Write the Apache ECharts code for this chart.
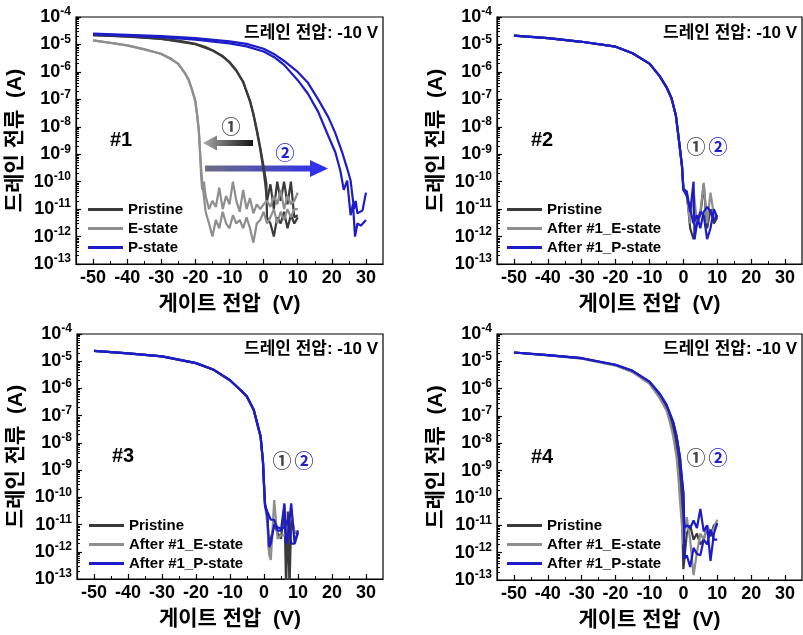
<!DOCTYPE html>
<html><head><meta charset="utf-8">
<script src="https://cdn.jsdelivr.net/npm/echarts@6/dist/echarts.min.js"></script>
<style>html,body{margin:0;padding:0;background:#fff}#c{width:803px;height:635px}</style>
</head><body><div id="c"></div><script>
// ---------- axis ticks ----------
const xMajorTicks = [-50,-40,-30,-20,-10,0,10,20,30];
const xMinorTicks = [-45,-35,-25,-15,-5,5,15,25];
const yMin = 1e-13, yMax = 1e-4;

// ---------- Panel #1 data [gate V, drain I (A)] ----------
const p1Pristine1 = [[-50,2.2e-5],[-45,2.08e-5],[-40,1.95e-5],[-35,1.8e-5],[-30,1.6e-5],[-25,1.38e-5],[-20,1.05e-5],[-17,8e-6],[-15,6.2e-6],[-12,3.8e-6],[-10,2.3e-6],[-8,1.15e-6],[-6,4.2e-7],[-4,8.5e-8],[-3,2.8e-8],[-2,7e-9],[-1,1.5e-9],[0,2.5e-10],[0.5,8e-11],[1,2e-11],[2,8e-11],[3,1e-11],[4,1e-10],[5,2e-11],[6,1e-10],[7,1.5e-11],[8,1e-10],[9,5e-12],[10,6e-12]];
const p1Pristine2 = [[-50,2.2e-5],[-40,1.93e-5],[-30,1.58e-5],[-20,1.02e-5],[-15,6e-6],[-12,3.6e-6],[-10,2.2e-6],[-8,1.1e-6],[-6,4.4e-7],[-4,9e-8],[-3,3e-8],[-2,8e-9],[-1,1.8e-9],[0,3.5e-10],[0.8,9e-11],[1,5e-12],[2,3e-12],[3,1e-12],[4,5e-12],[5,3e-12],[6,8e-12],[7,2e-12],[8,6e-12],[9,3e-12],[10,5e-12]];
const p1E1 = [[-50,1.4e-5],[-45,1.15e-5],[-40,9.2e-6],[-35,6.8e-6],[-30,4.5e-6],[-27,3e-6],[-25,1.9e-6],[-23,9e-7],[-22,5e-7],[-21,2.3e-7],[-20,8e-8],[-19.5,2.8e-8],[-19,7e-9],[-18.6,1e-9],[-18.3,1.5e-10],[-18,5e-11],[-17.5,1e-10],[-17,3e-11],[-16,1e-11],[-15,2e-11],[-14,1.2e-11],[-13,6e-11],[-12,1e-11],[-11,3e-11],[-10,1.5e-11],[-9,1e-10],[-8,2e-11],[-7,8e-12],[-6,5e-11],[-5,1e-11],[-4,2.5e-11],[-3,7e-12],[-2,1.5e-11],[-1,1e-11],[0,1.5e-11],[1,2e-11],[2,1.2e-11],[3,3e-11],[4,1.5e-11],[5,5e-11],[6,1e-11],[7,3e-11],[8,1.5e-11],[9,2e-11],[10,4e-11]];
const p1E2 = [[-50,1.4e-5],[-40,9.3e-6],[-30,4.6e-6],[-25,2e-6],[-22,5.5e-7],[-20,9e-8],[-19,8e-9],[-18.5,6e-10],[-18,1e-10],[-17,8e-12],[-16,3e-12],[-15,1e-12],[-14,4e-12],[-13,2e-12],[-12,8e-12],[-11,3e-12],[-10,2e-12],[-9,6e-12],[-8,3e-12],[-7,4e-12],[-6,2e-12],[-5,5e-12],[-4,2e-12],[-3,6e-13],[-2,3e-12],[-1,4e-12],[0,8e-12],[1,3e-12],[2,5e-12],[3,1e-11],[4,3e-12],[5,8e-12],[6,4e-12],[7,1e-11],[8,5e-12],[9,1e-11],[10,1e-11]];
const p1P1 = [[-50,2.5e-5],[-40,2.25e-5],[-30,2e-5],[-20,1.7e-5],[-10,1.3e-5],[-5,1.05e-5],[0,7e-6],[3,4.5e-6],[6,2.5e-6],[10,1e-6],[13,4e-7],[16,1e-7],[19,2.2e-8],[21,6e-9],[23,1.2e-9],[24.5,3e-10],[25.5,1.1e-10],[26,1.2e-10],[26.5,1e-11],[27,2e-11],[27.5,7e-12],[28,8e-12],[29,9e-12],[30,4e-11]];
const p1P2 = [[-50,2.3e-5],[-40,2.1e-5],[-30,1.85e-5],[-20,1.5e-5],[-10,1.1e-5],[-5,8.5e-6],[0,5.5e-6],[3,3.5e-6],[6,1.8e-6],[10,5e-7],[13,1.6e-7],[16,3.5e-8],[19,4.5e-9],[21,1.2e-9],[22.5,2.5e-10],[23.5,5e-11],[24.5,1.1e-10],[25,1e-10],[25.5,6e-12],[26.2,1.5e-11],[26.8,1e-12],[27.5,3e-12],[28.5,2.5e-12],[30,4e-12]];

// ---------- Panel #2 ----------
const p2On = [[-50,2.1e-5],[-40,1.7e-5],[-30,1.25e-5],[-20,8.3e-6],[-15,4.8e-6],[-10,2e-6],[-7,7e-7],[-5,2.8e-7],[-3.5,1.1e-7],[-2.2,2.5e-8],[-1.2,2.5e-9],[-0.4,3.5e-10]];
const p2PristineOff = [[0,6e-11],[1,4e-11],[2,2e-12],[3,8e-13],[4,3e-12],[5,6e-12],[6,8e-11],[7,2e-12],[8,1e-11],[9,3e-12],[10,5e-12]];
const p2EOff = [[0,6e-11],[1,3e-11],[2,3e-12],[3,5e-11],[4,3e-12],[5,8e-12],[6,9e-11],[7,3e-12],[8,4e-11],[9,6e-12],[10,5e-12]];
const p2POff1 = [[0,5e-11],[1,4.5e-11],[2,8e-12],[3,1e-10],[3.3,8e-13],[4,3e-12],[5,8e-12],[6,6e-12],[7,8e-13],[8,2e-12],[9,1e-11],[10,5e-12]];
const p2POff2 = [[0,5e-11],[1,3e-11],[2,1e-11],[3,3e-12],[4,6e-12],[5,2e-12],[6,8e-12],[7,1.2e-11],[8,8e-12],[9,4e-12],[10,6e-12]];

// ---------- Panel #3 ----------
const p3On = [[-50,2.4e-5],[-40,1.95e-5],[-30,1.5e-5],[-20,8.5e-6],[-15,5e-6],[-10,2e-6],[-7,9e-7],[-5,5e-7],[-3,1.6e-7],[-1,1.7e-8],[-0.3,2e-9],[0,3e-10]];
const p3PristineOff = [[0.3,6e-11],[1,2e-11],[1.5,1e-12],[2,3e-12],[3,1e-11],[4,5e-12],[5,3e-12],[6,5e-11],[6.5,5e-14],[7,3e-11],[7.5,5e-14],[8,1.5e-11],[9,5e-12],[10,5e-12]];
const p3EOff = [[0.3,6e-11],[1,1e-11],[1.5,8e-13],[2,5e-13],[3,8e-11],[4,3e-12],[5,4e-12],[6,4e-12],[7,6e-12],[8,3e-11],[9,5e-12],[10,6e-12]];
const p3POff1 = [[0.3,5e-11],[1,3e-11],[2,1.5e-11],[3,1.5e-11],[4,6e-12],[5,6e-12],[6,6e-11],[6.5,2e-12],[7,4e-12],[8,6e-11],[9,2e-12],[10,6e-12]];
const p3POff2 = [[0.3,5e-11],[1,2e-11],[1.5,1.5e-12],[2,2e-12],[3,1e-11],[4,8e-12],[5,7e-12],[6,8e-12],[7,1.5e-11],[8,2e-12],[9,2e-12],[10,5e-12]];

// ---------- Panel #4 ----------
const p4POn = [[-50,2.1e-5],[-40,1.7e-5],[-30,1.3e-5],[-20,7.5e-6],[-15,4.5e-6],[-10,1.8e-6],[-7,6.5e-7],[-5,2.6e-7],[-3,6e-8],[-2,1.8e-8],[-1,3e-9],[-0.5,6e-10]];
const p4EOn = [[-50,2.1e-5],[-40,1.65e-5],[-30,1.25e-5],[-20,7e-6],[-15,4e-6],[-10,1.5e-6],[-7,4.5e-7],[-5,1.6e-7],[-4,6e-8],[-3,1.8e-8],[-2,3e-9],[-1.5,6e-10]];
const p4PristineOn = [[-50,2.1e-5],[-40,1.68e-5],[-30,1.28e-5],[-20,7.2e-6],[-15,4.2e-6],[-10,1.6e-6],[-7,5.5e-7],[-5,2e-7],[-3.5,6e-8],[-2.5,1.8e-8],[-1.5,3e-9],[-1,6e-10]];
const p4PristineOff = [[-0.5,8e-11],[0,2.5e-13],[1,5e-12],[2,1e-11],[3,3e-12],[4,5e-12],[5,2e-12],[6,3e-12],[7,8e-12],[8,4e-12],[9,1e-11],[10,1.2e-11]];
const p4EOff = [[-1,8e-11],[0,2e-12],[1,2e-11],[2,3e-12],[3,1.5e-13],[4,1e-12],[5,5e-12],[6,3e-12],[7,1e-11],[8,5e-12],[9,8e-12],[10,1.6e-11]];
const p4POff1 = [[0,1.5e-10],[0.3,8e-12],[1,1e-11],[2,8e-12],[3,1.5e-11],[4,8e-12],[5,4e-11],[6,6e-12],[7,1e-11],[8,5e-13],[9,5e-12],[10,1.2e-11]];
const p4POff2 = [[0,1.5e-10],[0.3,6e-13],[1,8e-13],[2,3e-13],[3,1.5e-12],[4,9e-13],[5,8e-13],[6,3e-12],[7,2e-12],[8,7e-12],[9,3e-12],[10,3e-12]];

// ---------- texts ----------
const xName = '게이트 전압  (V)';
const yName = '드레인 전류  (A)';
const drainText = '드레인 전압: -10 V';
const panelTags = ['#1','#2','#3','#4'];
const legend1 = ['Pristine','E-state','P-state'];
const legend2 = ['Pristine','After #1_E-state','After #1_P-state'];

const C_DARK = '#3a3a3a', C_GRAY = '#8e8e8e', C_BLUE = '#1c1cc8';
const FONT = "'Liberation Sans', Arial, 'Noto Sans CJK KR', sans-serif";
const CJK = "'Noto Sans CJK KR', sans-serif";

const grids = [
  {left:76, top:17, width:307, height:247},
  {left:497, top:17, width:305, height:247},
  {left:77, top:334, width:306, height:245},
  {left:497, top:334, width:305, height:246}
];

// minor y tick positions in exponent space (decoration only)
const yMinorExp = [];
for (let n = -13; n < -4; n++) for (let k = 2; k <= 9; k++) yMinorExp.push(n + Math.log10(k));

const xAxes = [], yAxes = [];
grids.forEach((g, i) => {
  xAxes.push({
    gridIndex:i, type:'value', min:-55, max:35, position:'bottom',
    axisLine:{show:true, onZero:false, lineStyle:{color:'#000', width:1.2}},
    axisTick:{show:true, inside:true, length:5, customValues:xMajorTicks, lineStyle:{color:'#000', width:1.2}},
    axisLabel:{customValues:xMajorTicks, fontSize:18, fontWeight:'bold', color:'#000', margin:5, fontFamily:FONT},
    splitLine:{show:false},
    name:xName, nameLocation:'middle', nameGap:30,
    nameTextStyle:{fontSize:21, fontWeight:'bold', color:'#000', fontFamily:FONT}
  });
  xAxes.push({
    gridIndex:i, type:'value', min:-55, max:35, position:'bottom',
    axisLine:{show:false, onZero:false},
    axisTick:{show:true, inside:true, length:3, customValues:xMinorTicks, lineStyle:{color:'#000', width:1}},
    axisLabel:{show:false}, splitLine:{show:false}
  });
  yAxes.push({
    gridIndex:i, type:'log', logBase:10, min:yMin, max:yMax, interval:1, splitNumber:9, position:'left',
    axisLine:{show:true, onZero:false, lineStyle:{color:'#000', width:1.2}},
    axisTick:{show:true, inside:true, length:5, lineStyle:{color:'#000', width:1.2}},
    axisLabel:{
      margin:5, color:'#000',
      formatter: v => '{a|10}{b|' + Math.round(Math.log10(v)) + '}',
      rich:{
        a:{fontSize:18, fontWeight:'bold', fontFamily:FONT, color:'#000', lineHeight:22},
        b:{fontSize:12, fontWeight:'bold', fontFamily:FONT, color:'#000', verticalAlign:'top', lineHeight:12}
      }
    },
    splitLine:{show:false}, minorTick:{show:false},
    name:yName, nameLocation:'middle', nameGap:50, nameRotate:90,
    nameTextStyle:{fontSize:21, fontWeight:'bold', color:'#000', fontFamily:FONT}
  });
  yAxes.push({
    gridIndex:i, type:'value', min:-13, max:-4, position:'left',
    axisLine:{show:false, onZero:false},
    axisTick:{show:true, inside:true, length:3, customValues:yMinorExp, lineStyle:{color:'#000', width:1}},
    axisLabel:{show:false}, splitLine:{show:false}
  });
});

function ser(name, color, panel, data) {
  return {name, type:'line', xAxisIndex:panel*2, yAxisIndex:panel*2, data,
    symbol:'none', showSymbol:false, clip:true, animation:false,
    lineStyle:{color, width:2.2}, itemStyle:{color}};
}

const series = [
  ser('Pristine', C_DARK, 0, p1Pristine1),
  ser('Pristine', C_DARK, 0, p1Pristine2),
  ser('E-state', C_GRAY, 0, p1E1),
  ser('E-state', C_GRAY, 0, p1E2),
  ser('P-state', C_BLUE, 0, p1P1),
  ser('P-state', C_BLUE, 0, p1P2),

  ser('Pristine', C_DARK, 1, p2On.concat(p2PristineOff)),
  ser('After #1_E-state', C_GRAY, 1, p2On.concat(p2EOff)),
  ser('After #1_P-state', C_BLUE, 1, p2On.concat(p2POff1)),
  ser('After #1_P-state', C_BLUE, 1, p2On.concat(p2POff2)),

  ser('Pristine', C_DARK, 2, p3On.concat(p3PristineOff)),
  ser('After #1_E-state', C_GRAY, 2, p3On.concat(p3EOff)),
  ser('After #1_P-state', C_BLUE, 2, p3On.concat(p3POff1)),
  ser('After #1_P-state', C_BLUE, 2, p3On.concat(p3POff2)),

  ser('Pristine', C_DARK, 3, p4PristineOn.concat(p4PristineOff)),
  ser('After #1_E-state', C_GRAY, 3, p4EOn.concat(p4EOff)),
  ser('After #1_P-state', C_BLUE, 3, p4POn.concat(p4POff1)),
  ser('After #1_P-state', C_BLUE, 3, p4POn.concat(p4POff2))
];

function leg(data, left, top) {
  return {data, orient:'vertical', left, top, padding:0, itemWidth:35, itemHeight:3, itemGap:0,
    icon:'rect', selectedMode:false,
    textStyle:{fontSize:15, fontWeight:'bold', color:'#000', fontFamily:FONT, lineHeight:19}};
}

const txt = (x, y, text, opts) => ({type:'text', x, y, style:Object.assign({text, fontFamily:FONT, fontWeight:'bold', fill:'#000', fontSize:15, align:'center', verticalAlign:'middle'}, opts || {})});
const circ = (x, y, text, fill) => txt(x, y, text, {fontSize:19, fontWeight:'bold', fontFamily:CJK, fill});

const graphic = [
  txt(378, 33, drainText, {align:'right', fontSize:17}),
  txt(797, 33, drainText, {align:'right', fontSize:17}),
  txt(378, 349, drainText, {align:'right', fontSize:17}),
  txt(797, 349, drainText, {align:'right', fontSize:17}),
  txt(121, 140, panelTags[0], {fontSize:20}),
  txt(542, 140, panelTags[1], {fontSize:20}),
  txt(123, 456, panelTags[2], {fontSize:20}),
  txt(542, 457, panelTags[3], {fontSize:20}),
  circ(231, 127, '①', '#444'),
  circ(285, 153, '②', '#2222cc'),
  circ(696, 147, '①', '#444'),
  circ(718, 147, '②', '#2222cc'),
  circ(282, 461, '①', '#444'),
  circ(304, 461, '②', '#2222cc'),
  circ(696, 458, '①', '#444'),
  circ(718, 458, '②', '#2222cc'),
  {type:'polygon', shape:{points:[[203,143],[217,135.5],[217,140],[253,140],[253,146],[217,146],[217,150.5]]},
    style:{fill:{type:'linear', x:0, y:0, x2:1, y2:0, colorStops:[{offset:0, color:'#a8a8a8'},{offset:1, color:'#151515'}]}}},
  {type:'polygon', shape:{points:[[205,165.5],[310,165.5],[310,160],[328,168.5],[310,177],[310,171.5],[205,171.5]]},
    style:{fill:{type:'linear', x:0, y:0, x2:1, y2:0, colorStops:[{offset:0, color:'#6e6e82'},{offset:1, color:'#2a2af5'}]}}}
];

const chart = echarts.init(document.getElementById('c'), null, {renderer:'canvas'});
chart.setOption({
  backgroundColor:'#fff',
  animation:false,
  grid: grids.map(g => Object.assign({show:true, borderColor:'#000', borderWidth:1.2, backgroundColor:'transparent'}, g)),
  xAxis:xAxes, yAxis:yAxes,
  legend:[leg(legend1, 88, 200), leg(legend2, 507, 200), leg(legend2, 89, 516), leg(legend2, 507, 516)],
  series, graphic
});
</script></body></html>
